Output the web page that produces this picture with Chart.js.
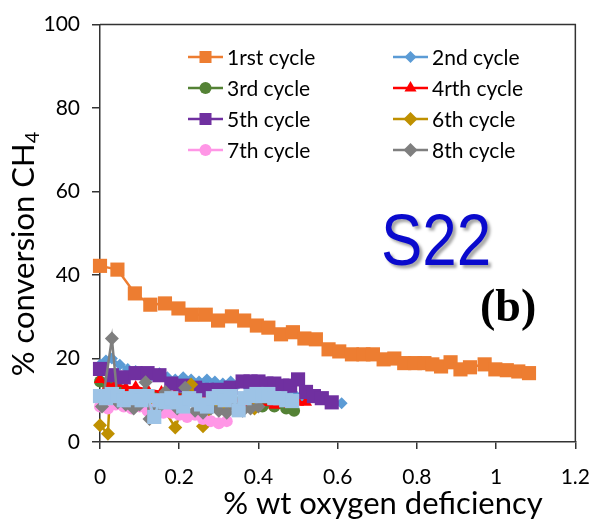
<!DOCTYPE html>
<html>
<head>
<meta charset="utf-8">
<script src="https://cdn.jsdelivr.net/npm/chart.js@4.4.1/dist/chart.umd.min.js"></script>
<style>
  html, body { margin: 0; padding: 0; background: #fff; }
  #wrap { width: 606px; height: 525px; }
</style>
</head>
<body>
<div id="wrap"><canvas id="conversionChart" width="606" height="525"></canvas></div>
<script>
// CH4 conversion vs oxygen deficiency, one array pair per cycle
const cycle1X = [0, 0.044, 0.088, 0.127, 0.164, 0.198, 0.232, 0.267, 0.298, 0.333, 0.364, 0.396, 0.425, 0.457, 0.487, 0.516, 0.545, 0.577, 0.604, 0.636, 0.665, 0.689, 0.716, 0.743, 0.768, 0.795, 0.819, 0.839, 0.861, 0.885, 0.910, 0.934, 0.971, 0.998, 1.027, 1.056, 1.083];
const cycle1Y = [42.2, 41.3, 35.6, 32.9, 33.2, 32.0, 30.5, 30.5, 29.1, 30.1, 29.1, 27.9, 27.4, 25.8, 26.3, 24.8, 24.6, 22.2, 21.7, 21.0, 21.0, 21.0, 19.8, 20.0, 18.9, 18.9, 18.9, 18.6, 18.1, 19.1, 17.4, 17.9, 18.6, 17.4, 17.2, 16.9, 16.5];

const cycle2X = [0, 0.015, 0.03, 0.05, 0.07, 0.09, 0.11, 0.13, 0.15, 0.17, 0.19, 0.21, 0.23, 0.25, 0.27, 0.29, 0.31, 0.33, 0.35, 0.37, 0.39, 0.41, 0.43, 0.45, 0.47, 0.49, 0.51, 0.53, 0.55, 0.57, 0.59, 0.61];
const cycle2Y = [18.5, 19.5, 20, 18.5, 17.5, 17, 16.5, 16, 16.5, 15.5, 15, 15.5, 15, 14.5, 15, 14.5, 14, 14.5, 14, 13.5, 13, 13.5, 13, 12.5, 12, 11.5, 11, 10.8, 10.5, 10, 9.5, 9.3];

const cycle3X = [0, 0.02, 0.05, 0.08, 0.11, 0.14, 0.17, 0.20, 0.23, 0.26, 0.29, 0.32, 0.35, 0.38, 0.41, 0.44, 0.47, 0.49];
const cycle3Y = [14.5, 13.5, 12.5, 12, 11.5, 11, 11, 10.5, 10.5, 10, 10, 9.5, 9.5, 9, 8.5, 8.5, 8, 7.5];

const cycle4X = [0, 0.02, 0.04, 0.065, 0.09, 0.12, 0.155, 0.19, 0.22, 0.26, 0.30, 0.33, 0.35, 0.37, 0.40, 0.44, 0.48, 0.50, 0.52];
const cycle4Y = [15, 13.5, 14, 13, 13.2, 12.5, 12, 11.5, 11, 10.5, 10, 9.3, 9.2, 9.3, 9, 8.8, 9, 9.5, 9.5];

const cycle5X = [0, 0.03, 0.06, 0.09, 0.12, 0.15, 0.18, 0.21, 0.24, 0.27, 0.30, 0.33, 0.36, 0.38, 0.40, 0.42, 0.44, 0.46, 0.48, 0.50, 0.52, 0.54, 0.56, 0.585];
const cycle5Y = [17.5, 16, 15.5, 16.5, 16.5, 16, 14, 13.5, 13, 12.5, 12.5, 13, 14.5, 14.5, 14.5, 14, 14, 13.5, 13.5, 15, 12, 11, 10.5, 9.5];

const cycle6X = [0, 0.02, 0.025, 0.06, 0.09, 0.12, 0.15, 0.19, 0.23, 0.26, 0.29, 0.32, 0.35, 0.39];
const cycle6Y = [4, 2, 11.5, 10, 9.5, 9, 9.5, 3.5, 13.8, 3.8, 9, 8.5, 8, 8];

const cycle7X = [0, 0.02, 0.04, 0.06, 0.08, 0.10, 0.12, 0.14, 0.16, 0.18, 0.20, 0.22, 0.24, 0.26, 0.28, 0.30, 0.32];
const cycle7Y = [8.5, 8, 9, 8.5, 8, 8.5, 7.5, 8, 7, 7, 6.5, 6, 6.5, 5.5, 5, 4.5, 5];

const cycle8X = [0.005, 0.03, 0.045, 0.065, 0.085, 0.10, 0.115, 0.125, 0.145, 0.165, 0.195, 0.215, 0.24, 0.26, 0.28, 0.30, 0.32, 0.34, 0.36, 0.38, 0.40];
const cycle8Y = [8.5, 24.8, 9.5, 9, 8, 9, 14.3, 5.5, 8, 12, 8, 13, 7.5, 7, 8, 7.5, 7, 8.5, 7.5, 8, 8.5];

const cycle9X = [0, 0.015, 0.03, 0.045, 0.06, 0.075, 0.09, 0.105, 0.12, 0.137, 0.15, 0.165, 0.18, 0.195, 0.21, 0.225, 0.24, 0.255, 0.27, 0.285, 0.30, 0.315, 0.33, 0.35, 0.365, 0.38, 0.395, 0.41, 0.425, 0.44, 0.455, 0.47, 0.485];
const cycle9Y = [11, 10.5, 11.5, 11, 10, 10.5, 11, 10, 11, 6, 10, 9.5, 10.5, 9.5, 8.5, 10.5, 10, 9, 8.5, 10.5, 11, 10, 11, 7.6, 10.5, 11, 11.5, 11, 11.5, 10.5, 10.5, 10, 9.8];

const seriesLabels = ['1rst cycle', '2nd cycle', '3rd cycle', '4rth cycle', '5th cycle', '6th cycle', '7th cycle', '8th cycle', '9th cycle'];
const seriesX = [cycle1X, cycle2X, cycle3X, cycle4X, cycle5X, cycle6X, cycle7X, cycle8X, cycle9X];
const seriesY = [cycle1Y, cycle2Y, cycle3Y, cycle4Y, cycle5Y, cycle6Y, cycle7Y, cycle8Y, cycle9Y];

// marker look per series
const seriesColors = ['#ED7D31', '#5B9BD5', '#548235', '#FF0000', '#7030A0', '#BF9000', '#FF96E6', '#7F7F7F', '#9DC3E6'];
const seriesMarkers = ['rect', 'rectRot', 'circle', 'triangle', 'rect', 'rectRot', 'circle', 'rectRot', 'rect'];
const seriesRadius = [10, 6, 6, 7, 10, 7, 6, 7, 10];
const legendCount = 8; // last series has no legend entry

const xTicks = [0, 0.2, 0.4, 0.6, 0.8, 1, 1.2];
const yTicks = [0, 20, 40, 60, 80, 100];

const FONT = 'Lato, "Open Sans", sans-serif';

const datasets = seriesLabels.map((label, i) => ({
  label,
  data: seriesX[i].map((x, j) => ({ x, y: seriesY[i][j] })),
  showLine: true,
  borderColor: seriesColors[i],
  backgroundColor: seriesColors[i],
  borderWidth: 2.5,
  pointStyle: seriesMarkers[i],
  pointRadius: seriesRadius[i],
  pointBorderWidth: 0,
  pointHoverRadius: seriesRadius[i],
  clip: false,
  order: seriesLabels.length - 1 - i,
}));

// frame, legend, axis titles and annotations
const decorPlugin = {
  id: 'decor',
  afterDraw(chart) {
    const { ctx, chartArea: a } = chart;
    ctx.save();

    // top and right edges of the plot box
    ctx.strokeStyle = '#333';
    ctx.lineWidth = 1.5;
    ctx.beginPath();
    ctx.moveTo(a.left, a.top);
    ctx.lineTo(a.right, a.top);
    ctx.lineTo(a.right, a.bottom);
    ctx.stroke();

    // two-column legend
    const cols = [{ x1: 188, x2: 223, tx: 227 }, { x1: 393, x2: 428, tx: 432 }];
    const rows = [57, 88, 119, 150];
    ctx.font = '21px ' + FONT;
    ctx.textBaseline = 'middle';
    ctx.textAlign = 'left';
    for (let i = 0; i < legendCount; i++) {
      const c = cols[i % 2];
      const y = rows[Math.floor(i / 2)];
      ctx.strokeStyle = seriesColors[i];
      ctx.fillStyle = seriesColors[i];
      ctx.lineWidth = 2.5;
      ctx.beginPath();
      ctx.moveTo(c.x1, y);
      ctx.lineTo(c.x2, y);
      ctx.stroke();
      const r = seriesMarkers[i] === 'rect' ? 8.5 : seriesRadius[i];
      Chart.helpers.drawPoint(ctx, { pointStyle: seriesMarkers[i], radius: r, rotation: 0, borderWidth: 0 }, (c.x1 + c.x2) / 2, y);
      ctx.fillStyle = '#000';
      ctx.fillText(seriesLabels[i], c.tx, y + 1);
    }

    // y axis title with subscript
    ctx.save();
    ctx.translate(24, 254);
    ctx.rotate(-Math.PI / 2);
    ctx.fillStyle = '#000';
    const main = '% conversion CH';
    ctx.font = '31px ' + FONT;
    const wMain = ctx.measureText(main).width;
    ctx.font = '20px ' + FONT;
    const wSub = ctx.measureText('4').width;
    const start = -(wMain + wSub) / 2;
    ctx.textAlign = 'left';
    ctx.textBaseline = 'middle';
    ctx.font = '31px ' + FONT;
    ctx.fillText(main, start, 0);
    ctx.font = '20px ' + FONT;
    ctx.fillText('4', start + wMain, 9);
    ctx.restore();

    // x axis title
    ctx.font = '31px ' + FONT;
    ctx.fillStyle = '#000';
    ctx.textAlign = 'center';
    ctx.textBaseline = 'middle';
    ctx.fillText('% wt oxygen deficiency', 383, 504);

    // sample tag
    ctx.save();
    ctx.translate(381, 265);
    ctx.scale(0.86, 1);
    ctx.font = '72px "Liberation Sans", Arial, sans-serif';
    ctx.textAlign = 'left';
    ctx.textBaseline = 'alphabetic';
    ctx.shadowColor = 'rgba(0,0,0,0.35)';
    ctx.shadowOffsetX = 3;
    ctx.shadowOffsetY = 3;
    ctx.shadowBlur = 3;
    ctx.fillStyle = '#0A0ACD';
    ctx.fillText('S22', 0, 0);
    ctx.restore();

    // panel letter
    ctx.font = 'bold 46px "Liberation Serif", "Times New Roman", serif';
    ctx.fillStyle = '#000';
    ctx.textAlign = 'left';
    ctx.textBaseline = 'alphabetic';
    ctx.fillText('(b)', 480, 321);

    ctx.restore();
  }
};

new Chart(document.getElementById('conversionChart'), {
  type: 'scatter',
  data: { datasets },
  options: {
    responsive: false,
    animation: false,
    devicePixelRatio: 1,
    layout: { padding: { top: 22, right: 15, left: 0, bottom: 0 }, autoPadding: false },
    plugins: { legend: { display: false }, tooltip: { enabled: false } },
    scales: {
      x: {
        type: 'linear',
        min: 0,
        max: 1.2,
        afterFit(scale) { scale.height = 83; },
        afterBuildTicks(scale) { scale.ticks = xTicks.map(v => ({ value: v })); },
        ticks: {
          color: '#000', font: { family: FONT, size: 21 }, padding: 16, maxRotation: 0, autoSkip: false,
          callback: (v) => String(v),
        },
        grid: { drawOnChartArea: false, tickLength: 7, color: '#333', lineWidth: 1.5 },
        border: { color: '#333', width: 1.5 },
      },
      y: {
        min: 0,
        max: 100,
        afterFit(scale) { scale.width = 100; },
        afterBuildTicks(scale) { scale.ticks = yTicks.map(v => ({ value: v })); },
        ticks: { color: '#000', font: { family: FONT, size: 21 }, padding: 12 },
        grid: { drawOnChartArea: false, tickLength: 8, color: '#333', lineWidth: 1.5 },
        border: { color: '#333', width: 1.5 },
      },
    },
  },
  plugins: [decorPlugin],
});
</script>
</body>
</html>
